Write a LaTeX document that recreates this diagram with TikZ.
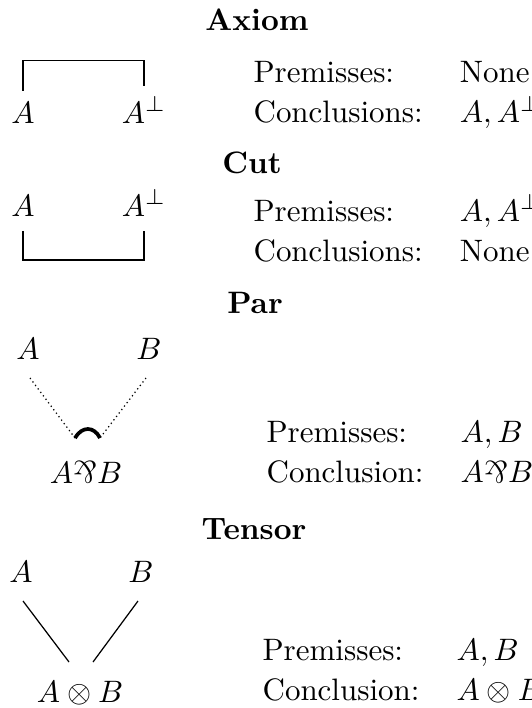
\documentclass[tikz,border=0pt]{standalone}
\usepackage{graphicx}
\usetikzlibrary{positioning}

\newcommand{\parsym}{\mathord{\rotatebox[origin=c]{180}{\&}}}

\begin{document}
\begin{tikzpicture}[x=0.3226pt,y=-0.3226pt,
  lbl/.style={anchor=base},
  head/.style={anchor=base,font=\bfseries},
  ruletab/.style={anchor=base west,inner sep=0pt}]
\useasboundingbox (0,0) rectangle (532,708);
\renewcommand{\arraystretch}{1.1}

% Axiom
\node[head] (axhead) at (257,30) {Axiom};
\node[lbl] (axA) at (23,123) {$A$};
\node[lbl] (axAp) at (144,123) {$A^\perp$};
\draw (axA.north) -- ++(0,-30) -| (axAp.north);
\node[ruletab] (axtab) at (253,82) {\begin{tabular}[t]{@{}ll@{}}Premisses: & None\\ Conclusions: & $A, A^\perp$\end{tabular}};

% Cut
\node[head] (cuthead) at (252,173) {Cut};
\node[lbl] (cutA) at (23,216) {$A$};
\node[lbl] (cutAp) at (144,216) {$A^\perp$};
\draw[shorten <=1.3pt,shorten >=1.3pt] (cutA.south) -- ++(0,33) -| (cutAp.south);
\node[ruletab] (cuttab) at (253,221) {\begin{tabular}[t]{@{}ll@{}}Premisses: & $A, A^\perp$\\ Conclusions: & None\end{tabular}};

% Par
\node[head] (parhead) at (255,313) {Par};
\node[lbl] (parA) at (28,359) {$A$};
\node[lbl] (parB) at (149,359) {$B$};
\node[lbl] (parAB) at (86,483) {$A\parsym B$};
\coordinate (parL1) at (30,378);
\coordinate (parL2) at (75,438);
\coordinate (parR1) at (146,378);
\coordinate (parR2) at (100,438);
\draw[densely dotted] (parL1) -- (parL2);
\draw[densely dotted] (parR1) -- (parR2);
\draw[very thick] (parL2) .. controls (82,426) and (94,426) .. (parR2);
\node[ruletab] (partab) at (266,442) {\begin{tabular}[t]{@{}ll@{}}Premisses: & $A, B$\\ Conclusion: & $A\parsym B$\end{tabular}};

% Tensor
\node[head] (tenhead) at (254,539) {Tensor};
\node[lbl] (tenA) at (21,582) {$A$};
\node[lbl] (tenB) at (141,582) {$B$};
\node[lbl] (tenAB) at (80,702) {$A\otimes B$};
\coordinate (tenL1) at (23,601);
\coordinate (tenL2) at (69,662);
\coordinate (tenR1) at (138,601);
\coordinate (tenR2) at (93,662);
\draw (tenL1) -- (tenL2);
\draw (tenR1) -- (tenR2);
\node[ruletab] (tentab) at (262,660) {\begin{tabular}[t]{@{}ll@{}}Premisses: & $A, B$\\ Conclusion: & $A\otimes B$\end{tabular}};
\end{tikzpicture}
\end{document}
